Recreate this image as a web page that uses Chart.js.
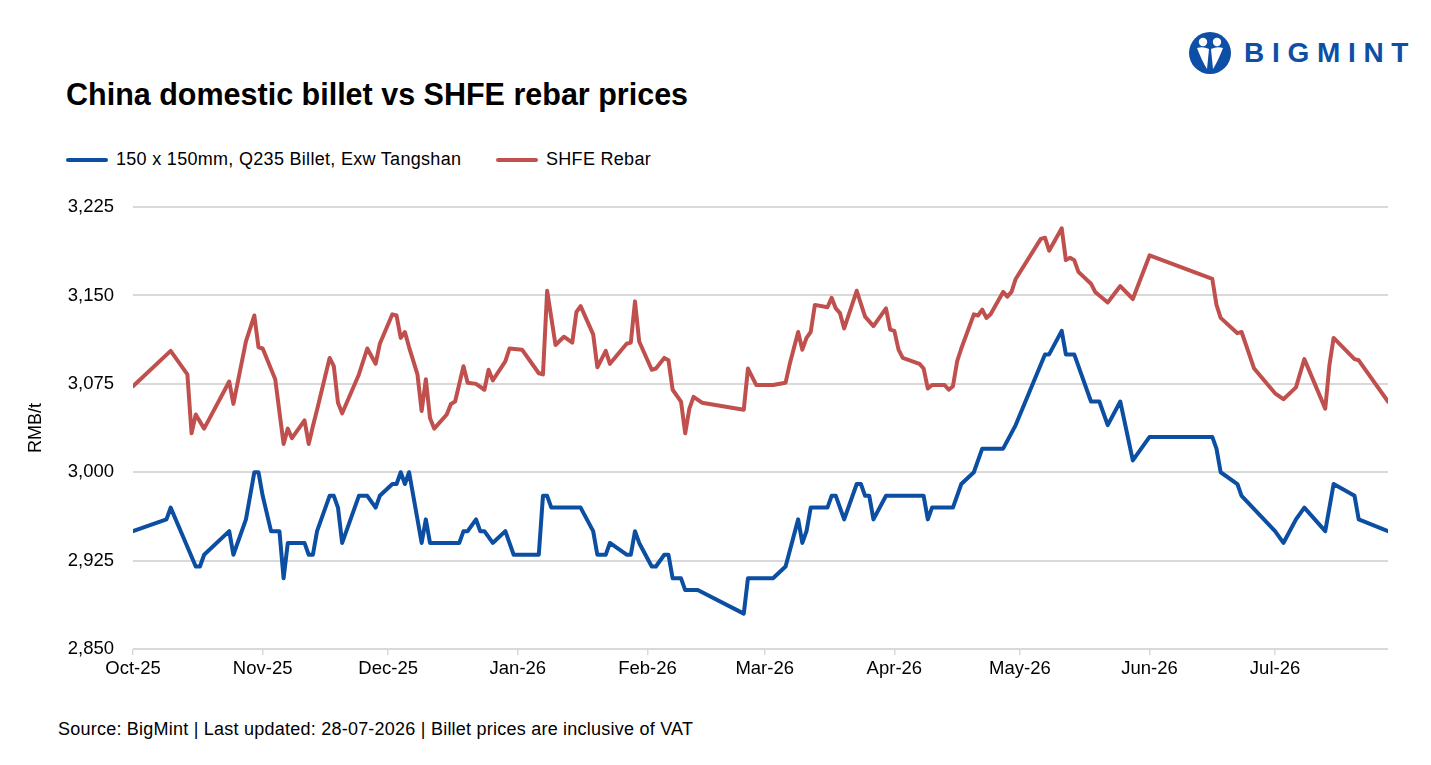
<!DOCTYPE html>
<html>
<head>
<meta charset="utf-8">
<script src="https://cdn.jsdelivr.net/npm/chart.js@4.4.1/dist/chart.umd.min.js"></script>
<style>
  html, body { margin: 0; padding: 0; background: #ffffff; }
  body { width: 1431px; height: 765px; position: relative; overflow: hidden;
         font-family: "Liberation Sans", Arial, sans-serif; color: #000; }
  #title { position: absolute; left: 66px; top: 77px; font-size: 30.5px; font-weight: bold; white-space: nowrap; }
  .leg { position: absolute; top: 149px; font-size: 18px; letter-spacing: 0.3px; white-space: nowrap; height: 20px; line-height: 20px; }
  .leg .sw { position: absolute; left: 0; top: 9px; width: 42px; height: 4px; border-radius: 2px; }
  .leg .tx { position: absolute; left: 50px; top: 0; }
  #footer { position: absolute; left: 58px; top: 719px; font-size: 18px; letter-spacing: 0.23px; white-space: nowrap; }
  #logo { position: absolute; left: 1188px; top: 31px; width: 235px; height: 44px; }
  #logo svg { position: absolute; left: 0; top: 0; }
  #logo .name { position: absolute; left: 56px; top: 6px; font-size: 28px; font-weight: bold; color: #0d4fa6; letter-spacing: 7.7px; line-height: 32px; }
  #wrap { position: absolute; left: 0; top: 177px; width: 1431px; height: 528px; }
</style>
</head>
<body>
<div id="logo">
  <svg width="44" height="44" viewBox="0 0 44 44">
    <circle cx="22" cy="22" r="21" fill="#0d4fa6"/>
    <circle cx="15" cy="11" r="4.2" fill="#fff"/>
    <circle cx="29" cy="11" r="4.2" fill="#fff"/>
    <path d="M9 17 Q15 15 21 18 L19 38 Q14 30 9 17 Z" fill="#fff"/>
    <path d="M35 17 Q29 15 23 18 L25 38 Q30 30 35 17 Z" fill="#fff"/>
  </svg>
  <div class="name">BIGMINT</div>
</div>
<div id="title">China domestic billet vs SHFE rebar prices</div>
<div class="leg" style="left:66px;"><span class="sw" style="background:#0b4ea2"></span><span class="tx">150 x 150mm, Q235 Billet, Exw Tangshan</span></div>
<div class="leg" style="left:496px;"><span class="sw" style="background:#c0504d"></span><span class="tx">SHFE Rebar</span></div>
<div id="wrap"><canvas id="c"></canvas></div>
<div id="footer">Source: BigMint | Last updated: 28-07-2026 | Billet prices are inclusive of VAT</div>

<script>
// ---------------- DATA ----------------
const billetDates = ["2025-10-01","2025-10-09","2025-10-10","2025-10-13","2025-10-16","2025-10-17","2025-10-18","2025-10-24","2025-10-25","2025-10-28","2025-10-30","2025-10-31","2025-11-01","2025-11-03","2025-11-05","2025-11-06","2025-11-07","2025-11-11","2025-11-12","2025-11-13","2025-11-14","2025-11-17","2025-11-18","2025-11-19","2025-11-20","2025-11-24","2025-11-26","2025-11-28","2025-11-29","2025-12-02","2025-12-03","2025-12-04","2025-12-05","2025-12-06","2025-12-09","2025-12-10","2025-12-11","2025-12-18","2025-12-19","2025-12-20","2025-12-22","2025-12-23","2025-12-24","2025-12-26","2025-12-29","2025-12-31","2026-01-06","2026-01-07","2026-01-08","2026-01-09","2026-01-16","2026-01-19","2026-01-20","2026-01-22","2026-01-23","2026-01-27","2026-01-28","2026-01-29","2026-01-30","2026-02-02","2026-02-03","2026-02-05","2026-02-06","2026-02-07","2026-02-09","2026-02-10","2026-02-13","2026-02-24","2026-02-25","2026-03-03","2026-03-06","2026-03-09","2026-03-10","2026-03-11","2026-03-12","2026-03-16","2026-03-17","2026-03-18","2026-03-20","2026-03-23","2026-03-24","2026-03-25","2026-03-26","2026-03-27","2026-03-30","2026-04-08","2026-04-09","2026-04-10","2026-04-15","2026-04-17","2026-04-20","2026-04-22","2026-04-27","2026-04-30","2026-05-07","2026-05-08","2026-05-11","2026-05-12","2026-05-14","2026-05-18","2026-05-20","2026-05-22","2026-05-25","2026-05-28","2026-06-01","2026-06-16","2026-06-17","2026-06-18","2026-06-22","2026-06-23","2026-07-01","2026-07-03","2026-07-06","2026-07-08","2026-07-13","2026-07-15","2026-07-20","2026-07-21","2026-07-28"];
const billetValues = [2950,2960,2970,2945,2920,2920,2930,2950,2930,2960,3000,3000,2980,2950,2950,2910,2940,2940,2930,2930,2950,2980,2980,2970,2940,2980,2980,2970,2980,2990,2990,3000,2990,3000,2940,2960,2940,2940,2950,2950,2960,2950,2950,2940,2950,2930,2930,2980,2980,2970,2970,2950,2930,2930,2940,2930,2930,2950,2940,2920,2920,2930,2930,2910,2910,2900,2900,2880,2910,2910,2920,2960,2940,2950,2970,2970,2980,2980,2960,2990,2990,2980,2980,2960,2980,2980,2960,2970,2970,2990,3000,3020,3020,3040,3100,3100,3120,3100,3100,3060,3060,3040,3060,3010,3030,3030,3020,3000,2990,2980,2950,2940,2960,2970,2950,2990,2980,2960,2950];

const rebarDates = ["2025-10-01","2025-10-10","2025-10-14","2025-10-15","2025-10-16","2025-10-18","2025-10-24","2025-10-25","2025-10-28","2025-10-30","2025-10-31","2025-11-01","2025-11-04","2025-11-06","2025-11-07","2025-11-08","2025-11-11","2025-11-12","2025-11-13","2025-11-14","2025-11-17","2025-11-18","2025-11-19","2025-11-20","2025-11-24","2025-11-26","2025-11-28","2025-11-29","2025-12-02","2025-12-03","2025-12-04","2025-12-05","2025-12-06","2025-12-08","2025-12-09","2025-12-10","2025-12-11","2025-12-12","2025-12-15","2025-12-16","2025-12-17","2025-12-19","2025-12-20","2025-12-22","2025-12-24","2025-12-25","2025-12-26","2025-12-29","2025-12-30","2026-01-02","2026-01-06","2026-01-07","2026-01-08","2026-01-10","2026-01-12","2026-01-14","2026-01-15","2026-01-16","2026-01-19","2026-01-20","2026-01-22","2026-01-23","2026-01-27","2026-01-28","2026-01-29","2026-01-30","2026-02-02","2026-02-03","2026-02-05","2026-02-06","2026-02-07","2026-02-09","2026-02-10","2026-02-11","2026-02-12","2026-02-14","2026-02-24","2026-02-25","2026-02-27","2026-03-03","2026-03-06","2026-03-07","2026-03-09","2026-03-10","2026-03-11","2026-03-12","2026-03-13","2026-03-16","2026-03-17","2026-03-18","2026-03-19","2026-03-20","2026-03-23","2026-03-25","2026-03-27","2026-03-30","2026-03-31","2026-04-01","2026-04-02","2026-04-03","2026-04-07","2026-04-08","2026-04-09","2026-04-10","2026-04-13","2026-04-14","2026-04-15","2026-04-16","2026-04-17","2026-04-20","2026-04-21","2026-04-22","2026-04-23","2026-04-24","2026-04-27","2026-04-28","2026-04-29","2026-04-30","2026-05-06","2026-05-07","2026-05-08","2026-05-11","2026-05-12","2026-05-13","2026-05-14","2026-05-15","2026-05-18","2026-05-19","2026-05-22","2026-05-25","2026-05-28","2026-06-01","2026-06-16","2026-06-17","2026-06-18","2026-06-22","2026-06-23","2026-06-26","2026-07-01","2026-07-03","2026-07-06","2026-07-08","2026-07-13","2026-07-14","2026-07-15","2026-07-20","2026-07-21","2026-07-28"];
const rebarValues = [3073,3103,3083,3033,3049,3037,3077,3058,3111,3133,3106,3105,3079,3024,3037,3029,3044,3024,3039,3053,3097,3090,3059,3050,3083,3105,3092,3109,3134,3133,3114,3119,3106,3083,3052,3079,3046,3037,3049,3058,3060,3090,3076,3075,3070,3087,3078,3094,3105,3104,3084,3083,3154,3108,3115,3110,3136,3141,3117,3089,3103,3092,3109,3110,3145,3111,3087,3088,3097,3095,3070,3060,3033,3054,3064,3059,3053,3088,3074,3074,3076,3092,3119,3104,3114,3119,3142,3140,3148,3139,3135,3122,3154,3132,3124,3139,3121,3120,3104,3097,3092,3088,3071,3074,3074,3070,3073,3094,3105,3134,3133,3138,3131,3134,3153,3149,3153,3164,3198,3199,3188,3207,3180,3182,3180,3170,3160,3153,3144,3158,3147,3184,3164,3142,3131,3118,3119,3088,3067,3062,3072,3096,3054,3091,3114,3096,3095,3060];

const monthTickDates = ["2025-10-01","2025-11-01","2025-12-01","2026-01-01","2026-02-01","2026-03-01","2026-04-01","2026-05-01","2026-06-01","2026-07-01"];
const monthTickLabels = ["Oct-25","Nov-25","Dec-25","Jan-26","Feb-26","Mar-26","Apr-26","May-26","Jun-26","Jul-26"];
const axisStartDate = "2025-10-01";
const axisEndDate = "2026-07-28";
const yMin = 2850, yMax = 3225, yStep = 75;
const seriesNames = ["150 x 150mm, Q235 Billet, Exw Tangshan", "SHFE Rebar"];

// ---------------- HELPERS ----------------
function dayIndex(s) {
  const [y, m, d] = s.split("-").map(Number);
  const [y0, m0, d0] = axisStartDate.split("-").map(Number);
  return Math.round((Date.UTC(y, m - 1, d) - Date.UTC(y0, m0 - 1, d0)) / 86400000);
}
const toPoints = (dates, vals) => dates.map((d, i) => ({ x: dayIndex(d), y: vals[i] }));
const monthTickPos = monthTickDates.map(dayIndex);

const FONT = "'Liberation Sans', Arial, sans-serif";
const TICK_SIZE = 18.5;

const yTitlePlugin = {
  id: 'yTitle',
  afterDraw(chart) {
    const { ctx, chartArea } = chart;
    ctx.save();
    ctx.translate(36, (chartArea.top + chartArea.bottom) / 2);
    ctx.rotate(-Math.PI / 2);
    ctx.font = "18px " + FONT;
    ctx.fillStyle = "#000";
    ctx.textAlign = "center";
    ctx.textBaseline = "middle";
    ctx.fillText("RMB/t", 0, 0);
    ctx.restore();
  }
};

new Chart(document.getElementById('c'), {
  type: 'line',
  data: {
    datasets: [
      {
        label: seriesNames[0],
        data: toPoints(billetDates, billetValues),
        borderColor: '#0b4ea2',
        backgroundColor: '#0b4ea2',
        borderWidth: 4,
        pointRadius: 0,
        tension: 0,
        borderJoinStyle: 'round',
        borderCapStyle: 'round'
      },
      {
        label: seriesNames[1],
        data: toPoints(rebarDates, rebarValues),
        borderColor: '#c0504d',
        backgroundColor: '#c0504d',
        borderWidth: 4,
        pointRadius: 0,
        tension: 0,
        borderJoinStyle: 'round',
        borderCapStyle: 'round'
      }
    ]
  },
  options: {
    responsive: true,
    maintainAspectRatio: false,
    animation: false,
    layout: { padding: { left: 0, right: 43, top: 12, bottom: 0 } },
    plugins: { legend: { display: false }, tooltip: { enabled: false }, title: { display: false } },
    scales: {
      x: {
        type: 'linear',
        min: dayIndex(axisStartDate),
        max: dayIndex(axisEndDate),
        afterBuildTicks(scale) { scale.ticks = monthTickPos.map(v => ({ value: v })); },
        afterFit(scale) { scale.height = 56; },
        grid: { display: true, drawOnChartArea: false, drawTicks: true, tickLength: 6, color: '#d9d9d9', lineWidth: 1.5 },
        border: { display: false },
        ticks: {
          autoSkip: false,
          maxRotation: 0,
          padding: 3,
          color: '#000',
          font: { family: FONT, size: TICK_SIZE },
          callback(v) { const i = monthTickPos.indexOf(v); return i >= 0 ? monthTickLabels[i] : ''; }
        }
      },
      y: {
        min: yMin,
        max: yMax,
        afterFit(scale) { scale.width = 133; },
        grid: { color: '#d9d9d9', lineWidth: 2, drawTicks: false },
        border: { display: false },
        ticks: {
          stepSize: yStep,
          padding: 19,
          color: '#000',
          font: { family: FONT, size: TICK_SIZE },
          callback(v) { return v.toLocaleString('en-US'); }
        }
      }
    }
  },
  plugins: [yTitlePlugin]
});
</script>
</body>
</html>
